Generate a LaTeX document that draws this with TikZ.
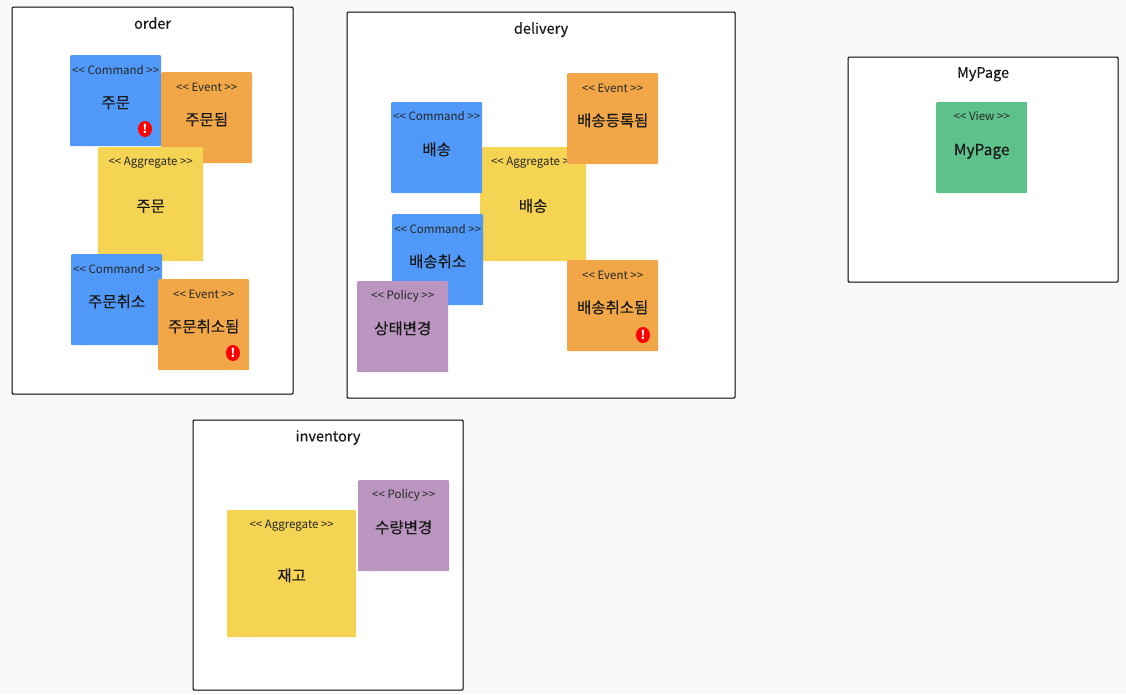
\documentclass[tikz,border=0pt]{standalone}
\usepackage{fontspec}
\setmainfont{Noto Sans CJK KR}
\newfontfamily\labelfont[FakeBold=0.35]{Noto Sans CJK KR}
\usetikzlibrary{positioning,shapes.geometric}
\definecolor{CmdBlue}{HTML}{5099F8}
\definecolor{EvtOrange}{HTML}{F1A747}
\definecolor{AggYellow}{HTML}{F6D453}
\definecolor{PolPurple}{HTML}{B995BF}
\definecolor{ViewGreen}{HTML}{5EC08A}
\definecolor{PageGrey}{HTML}{F9F9F9}
\tikzset{
    context/.style = {draw=black, fill=white, line width=1.1pt, rounded corners=1pt, inner sep=0pt, anchor=north west},
    title/.style = {font=\labelfont\fontsize{14.5}{16}\selectfont, text=black!90, inner sep=0pt},
    sticky/.style = {rounded corners=1pt, inner sep=0pt, minimum width=91pt, minimum height=91pt, anchor=north west,
        font=\labelfont\fontsize{15.5}{17}\selectfont, text=black!90, text height=17pt, text depth=2pt},
    command/.style = {sticky, fill=CmdBlue},
    event/.style = {sticky, fill=EvtOrange},
    aggregate/.style = {sticky, fill=AggYellow},
    policy/.style = {sticky, fill=PolPurple},
    view/.style = {sticky, fill=ViewGreen},
    stereo/.style = {font=\fontsize{11.5}{13}\selectfont, text=black!85, inner sep=0pt, text height=8pt, text depth=2pt},
    warn/.style = {ellipse, fill=red, text=white, inner sep=0pt, minimum width=14pt, minimum height=16pt,
        font=\bfseries\fontsize{12}{12}\selectfont}
}
\begin{document}
\begin{tikzpicture}[x=1pt,y=-1pt]
    \path[use as bounding box, fill=PageGrey] (0,0) rectangle (1126,694);
    % order
    \node [context, minimum width=281pt, minimum height=387pt] (order) at (11.5,6.5) {};
    \node [title, below=10.5pt of order.north] (orderTitle) {order};
    \node [command] (orderCmd) at (70,55) {주문};
    \node [stereo, below=11pt of orderCmd.north] (orderCmdS) {<{}< Command >{}>};
    \node [warn] (orderCmdW) at (145,129) {!};
    \node [event] (orderEvt) at (161,72) {주문됨};
    \node [stereo, below=11pt of orderEvt.north] (orderEvtS) {<{}< Event >{}>};
    \node [aggregate, minimum width=105pt, minimum height=114pt] (orderAgg) at (98,147) {주문};
    \node [stereo, below=10pt of orderAgg.north] (orderAggS) {<{}< Aggregate >{}>};
    \node [command] (cancelCmd) at (71,254) {주문취소};
    \node [stereo, below=11pt of cancelCmd.north] (cancelCmdS) {<{}< Command >{}>};
    \node [event] (cancelEvt) at (158,279) {주문취소됨};
    \node [stereo, below=11pt of cancelEvt.north] (cancelEvtS) {<{}< Event >{}>};
    \node [warn] (cancelEvtW) at (233,353) {!};
    % delivery
    \node [context, minimum width=388pt, minimum height=386pt] (delivery) at (346.5,11.5) {};
    \node [title, below=10.5pt of delivery.north] (deliveryTitle) {delivery};
    \node [aggregate, minimum width=106pt, minimum height=114pt] (delivAgg) at (480,147) {배송};
    \node [stereo, below=10pt of delivAgg.north] (delivAggS) {<{}< Aggregate >{}>};
    \node [command] (delivCmd) at (391,102) {배송};
    \node [stereo, below=10pt of delivCmd.north] (delivCmdS) {<{}< Command >{}>};
    \node [event] (delivEvt) at (567,73) {배송등록됨};
    \node [stereo, below=11pt of delivEvt.north] (delivEvtS) {<{}< Event >{}>};
    \node [command] (stopCmd) at (392,214) {배송취소};
    \node [stereo, below=11pt of stopCmd.north] (stopCmdS) {<{}< Command >{}>};
    \node [policy] (statePol) at (357,281) {상태변경};
    \node [stereo, below=10pt of statePol.north] (statePolS) {<{}< Policy >{}>};
    \node [event] (stopEvt) at (567,260) {배송취소됨};
    \node [stereo, below=11pt of stopEvt.north] (stopEvtS) {<{}< Event >{}>};
    \node [warn] (stopEvtW) at (643,335) {!};
    % MyPage
    \node [context, minimum width=270pt, minimum height=225pt] (mypage) at (847.5,56.5) {};
    \node [title, below=10.5pt of mypage.north] (mypageTitle) {MyPage};
    \node [view] (pageView) at (936,102) {MyPage};
    \node [stereo, below=10pt of pageView.north] (pageViewS) {<{}< View >{}>};
    % inventory
    \node [context, minimum width=270pt, minimum height=270pt] (inventory) at (192.5,419.5) {};
    \node [title, below=10.5pt of inventory.north] (inventoryTitle) {inventory};
    \node [aggregate, minimum width=129pt, minimum height=127pt] (stockAgg) at (227,510) {재고};
    \node [stereo, below=10pt of stockAgg.north] (stockAggS) {<{}< Aggregate >{}>};
    \node [policy] (stockPol) at (358,480) {수량변경};
    \node [stereo, below=10pt of stockPol.north] (stockPolS) {<{}< Policy >{}>};
\end{tikzpicture}
\end{document}
